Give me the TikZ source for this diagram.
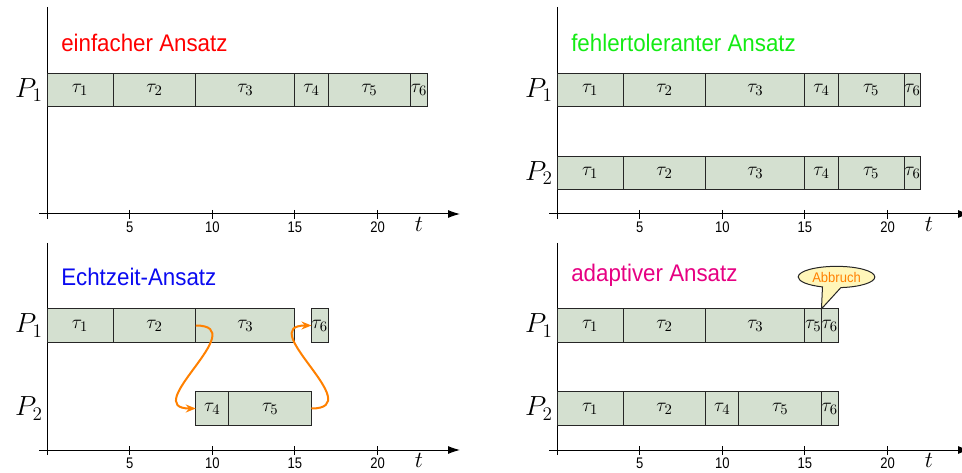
\documentclass[tikz,border=0pt]{standalone}
\usepackage{fontspec}
\newfontfamily\condfont[FakeStretch=0.93]{Liberation Sans}
\newfontfamily\tickfont[FakeStretch=0.85]{Liberation Sans}
\usetikzlibrary{arrows.meta,shapes.callouts}
\definecolor{boxfill}{RGB}{212,224,208}
\definecolor{flow}{RGB}{255,128,0}
\definecolor{tred}{RGB}{255,0,0}
\definecolor{tgreen}{RGB}{20,235,20}
\definecolor{tblue}{RGB}{10,10,240}
\definecolor{tpink}{RGB}{230,0,130}
\definecolor{callfill}{RGB}{255,246,185}
\def\U{16.53}
\newcommand\tsk[6]{% name, x0, start, end, y, index
  \node[taskbox, minimum width={(#4-#3)*\U*0.75pt}, anchor=west] (#1) at ({#2+#3*\U}, #5) {\makebox[0pt]{$\tau_{#6}$}};}
\newcommand\axes[4]{% prefix, x0, ytop, yaxis
  \coordinate (#1top) at (#2,#3);
  \coordinate (#1bot) at (#2,#4+5);
  \coordinate (#1left) at (#2-8,#4);
  \coordinate (#1right) at (#2+413,#4);
  \draw[axisline] (#1top) -- (#1bot);
  \draw[axisline,-{Latex[length=9pt,width=6pt]}] (#1left) -- (#1right);
  \foreach \k in {5,10,15,20}{
    \coordinate (#1a\k) at (#2+\k*\U,#4-4);
    \coordinate (#1b\k) at (#2+\k*\U,#4+5);
    \draw[axisline] (#1a\k) -- (#1b\k) node[ticklabel] (#1n\k) {\k};
  }
  \node[tlabel] (#1t) at (#2+372,#4+10) {$t$};
}
\begin{document}
\begin{tikzpicture}[x=0.75pt,y=-0.75pt,
  taskbox/.style={draw=black!85, fill=boxfill, line width=0.75pt, minimum height=25pt,
    inner sep=0pt, outer sep=0pt, font=\fontsize{15}{15}\selectfont},
  axisline/.style={line width=0.75pt, black},
  ticklabel/.style={below, inner sep=1.5pt, font=\tickfont\fontsize{11.5}{11.5}\selectfont},
  tlabel/.style={inner sep=0pt, font=\fontsize{17}{17}\selectfont},
  plabel/.style={anchor=east, inner sep=0pt, font=\fontsize{20}{20}\selectfont},
  title/.style={anchor=west, inner sep=0pt, font=\condfont\fontsize{18}{18}\selectfont},
  flowarrow/.style={draw=flow, line width=1.5pt, -{Stealth[length=7.5pt,width=6pt]}}]
\useasboundingbox (0,0) rectangle (962,473);

% ---------- panel A: einfacher Ansatz
\axes{A}{47}{7}{214}
\node[title, text=tred] (Atitle) at (61,43) {einfacher Ansatz};
\node[plabel] (AP1) at (43,90) {$P_1$};
\tsk{a1}{47}{0}{4}{90}{1}
\tsk{a2}{47}{4}{9}{90}{2}
\tsk{a3}{47}{9}{15}{90}{3}
\tsk{a4}{47}{15}{17}{90}{4}
\tsk{a5}{47}{17}{22}{90}{5}
\tsk{a6}{47}{22}{23}{90}{6}

% ---------- panel B: fehlertoleranter Ansatz
\axes{B}{557}{7}{214}
\node[title, text=tgreen] (Btitle) at (571,43) {fehlertoleranter Ansatz};
\node[plabel] (BP1) at (553,90) {$P_1$};
\node[plabel] (BP2) at (553,173) {$P_2$};
\tsk{b1}{557}{0}{4}{90}{1}
\tsk{b2}{557}{4}{9}{90}{2}
\tsk{b3}{557}{9}{15}{90}{3}
\tsk{b4}{557}{15}{17}{90}{4}
\tsk{b5}{557}{17}{21}{90}{5}
\tsk{b6}{557}{21}{22}{90}{6}
\tsk{bb1}{557}{0}{4}{173}{1}
\tsk{bb2}{557}{4}{9}{173}{2}
\tsk{bb3}{557}{9}{15}{173}{3}
\tsk{bb4}{557}{15}{17}{173}{4}
\tsk{bb5}{557}{17}{21}{173}{5}
\tsk{bb6}{557}{21}{22}{173}{6}

% ---------- panel C: Echtzeit-Ansatz
\axes{C}{47}{243}{450}
\node[title, text=tblue] (Ctitle) at (61,277) {Echtzeit-Ansatz};
\node[plabel] (CP1) at (43,325.5) {$P_1$};
\node[plabel] (CP2) at (43,408.5) {$P_2$};
\tsk{c1}{47}{0}{4}{325.5}{1}
\tsk{c2}{47}{4}{9}{325.5}{2}
\tsk{c3}{47}{9}{15}{325.5}{3}
\tsk{c6}{47}{16}{17}{325.5}{6}
\tsk{c4}{47}{9}{11}{408.5}{4}
\tsk{c5}{47}{11}{16}{408.5}{5}
\draw[flowarrow] (c3.west) .. controls +(58,0) and +(-58,0) .. (c4.west);
\draw[flowarrow] (c5.east) .. controls +(58,0) and +(-58,0) .. (c6.west);

% ---------- panel D: adaptiver Ansatz
\axes{D}{557}{243}{450}
\node[title, text=tpink] (Dtitle) at (571,275) {adaptiver Ansatz};
\node[plabel] (DP1) at (553,325.5) {$P_1$};
\node[plabel] (DP2) at (553,408.5) {$P_2$};
\tsk{d1}{557}{0}{4}{325.5}{1}
\tsk{d2}{557}{4}{9}{325.5}{2}
\tsk{d3}{557}{9}{15}{325.5}{3}
\tsk{d5}{557}{15}{16}{325.5}{5}
\tsk{d6}{557}{16}{17}{325.5}{6}
\tsk{dd1}{557}{0}{4}{408.5}{1}
\tsk{dd2}{557}{4}{9}{408.5}{2}
\tsk{dd4}{557}{9}{11}{408.5}{4}
\tsk{dd5}{557}{11}{16}{408.5}{5}
\tsk{dd6}{557}{16}{17}{408.5}{6}
\node[ellipse callout, draw=black!85, fill=callfill, line width=0.75pt,
  minimum width=57.5pt, minimum height=16pt, inner sep=0pt,
  callout absolute pointer={(d5.north east)}, callout pointer arc=28,
  text=flow, font=\condfont\fontsize{10.5}{10.5}\selectfont] (abbr) at (836.5,277) {Abbruch};
\end{tikzpicture}
\end{document}
